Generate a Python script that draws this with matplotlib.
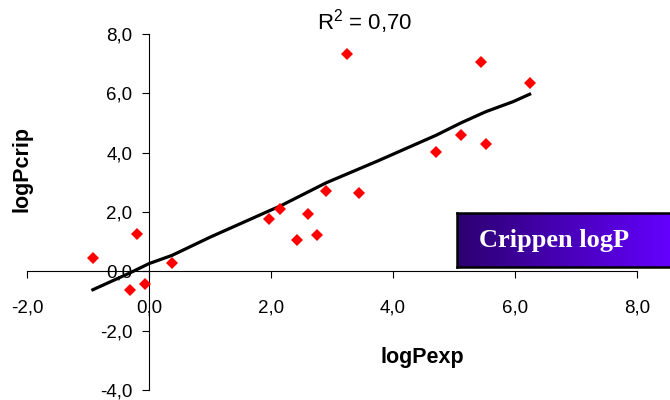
import numpy as np
import matplotlib.pyplot as plt
from matplotlib.colors import LinearSegmentedColormap

logp_exp = [-0.91, -0.20, -0.31, -0.07, 0.38, 1.96, 2.15, 2.43, 2.60, 2.75,
            2.90, 3.44, 3.24, 4.71, 5.11, 5.52, 5.44, 6.24]
logp_crip = [0.45, 1.27, -0.63, -0.44, 0.28, 1.75, 2.09, 1.04, 1.94, 1.23,
             2.70, 2.65, 7.34, 4.01, 4.60, 4.30, 7.04, 6.34]

# trend line as drawn in the picture
fit_x = [-0.92, -0.31, 0.0, 0.38, 1.0, 1.96, 2.15, 2.90, 3.76, 4.71, 5.11, 5.52, 5.97, 6.24]
fit_y = [-0.62, -0.05, 0.26, 0.54, 1.15, 2.03, 2.20, 2.98, 3.73, 4.59, 5.00, 5.38, 5.72, 5.97]

x_ticks = [-2, 0, 2, 4, 6, 8]
y_ticks = [-4, -2, 0, 2, 4, 6, 8]
r2_text = "R$^2$ = 0,70"

plt.rcParams['font.family'] = ['Liberation Sans', 'DejaVu Sans']
plt.rcParams['mathtext.fontset'] = 'custom'
plt.rcParams['mathtext.rm'] = 'Liberation Sans'

fig = plt.figure(figsize=(6.7, 4.0), dpi=100)
ax = fig.add_axes([27 / 670, 10 / 400, 610 / 670, 356 / 400])

ax.plot(fit_x, fit_y, color='black', lw=2.3, zorder=2)
ax.plot(logp_exp, logp_crip, linestyle='none', marker='D', markersize=6.5,
        color='#ff0000', markeredgewidth=0, zorder=3)

ax.set_xlim(-2, 8)
ax.set_ylim(-4, 8)
ax.spines['left'].set_position(('data', 0))
ax.spines['bottom'].set_position(('data', 0))
ax.spines['top'].set_visible(False)
ax.spines['right'].set_visible(False)
for s in ('left', 'bottom'):
    ax.spines[s].set_linewidth(0.8)

fmt = lambda v: f"{v:.1f}".replace('.', ',')
ax.set_xticks(x_ticks)
ax.set_xticklabels([fmt(v) for v in x_ticks])
ax.set_yticks(y_ticks)
ax.set_yticklabels([fmt(v) for v in y_ticks])
ax.tick_params(axis='x', direction='out', length=5, width=0.8, pad=15, labelsize=13.5)
ax.tick_params(axis='y', direction='out', length=5, width=0.8, pad=7, labelsize=13.5)

fig.text(365 / 670, 1 - 22 / 400, r2_text, ha='center', va='center', fontsize=16)
fig.text(22 / 670, 1 - 169 / 400, 'logPcrip', rotation=90, ha='center', va='center',
         fontsize=15.5, fontweight='bold')
fig.text(422 / 670, 1 - 357 / 400, 'logPexp', ha='center', va='center',
         fontsize=15.5, fontweight='bold')

# gradient label box
box = fig.add_axes([457 / 670, 1 - 267 / 400, 215 / 670, 54 / 400])
cmap = LinearSegmentedColormap.from_list('purp', ['#2c0070', '#6400ff'])
box.imshow(np.linspace(0, 1, 256).reshape(1, -1), aspect='auto', cmap=cmap,
           extent=[0, 1, 0, 1])
box.set_xticks([])
box.set_yticks([])
for s in box.spines.values():
    s.set_linewidth(1.8)
    s.set_color('black')
box.text(0.45, 0.5, 'Crippen logP', transform=box.transAxes, ha='center',
         va='center', color='white', fontsize=19, fontweight='bold',
         family=['Liberation Serif', 'DejaVu Serif'])

fig.savefig('out.png', dpi=100)
